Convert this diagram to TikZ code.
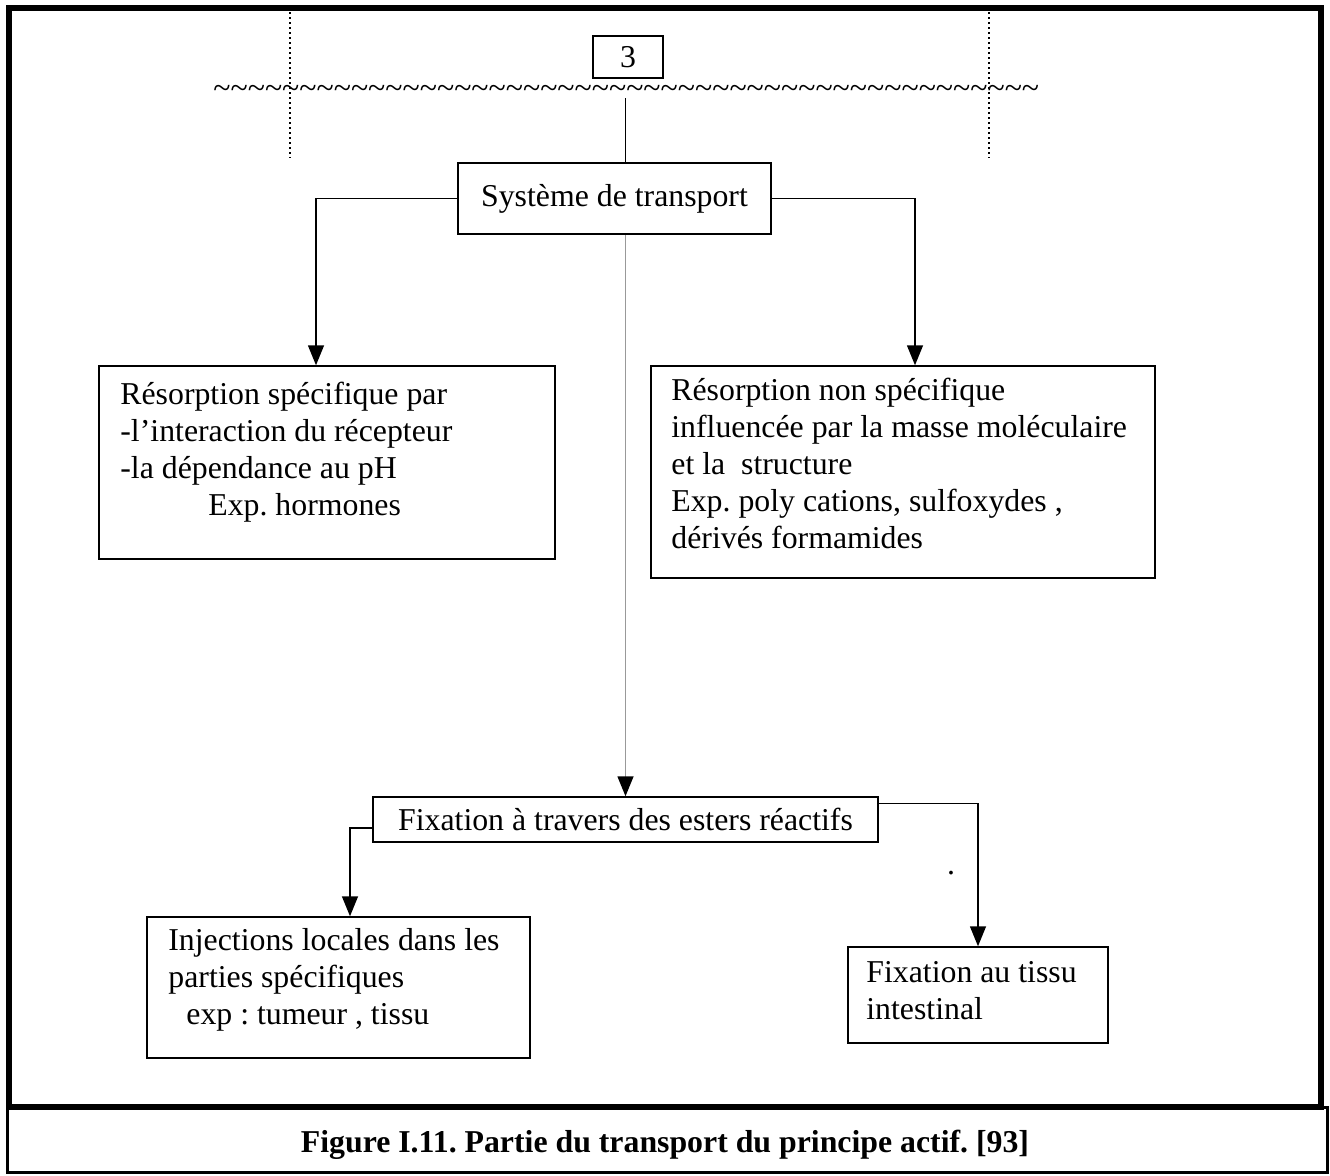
\documentclass[tikz,border=0pt]{standalone}
\usepackage{fontspec}
\setmainfont{Liberation Serif}
\frenchspacing
\usetikzlibrary{arrows.meta, positioning, calc, fit}

\begin{document}
\begin{tikzpicture}[
    x=0.5pt, y=-0.5pt,
    font=\fontsize{15.9pt}{18.5pt}\selectfont,
    >={Triangle[length=10pt, width=8pt]},
    frameLine/.style={line width=3pt},
    boxNode/.style={draw, line width=0.75pt, inner sep=0pt},
    boxText/.style={align=left, inner sep=0pt, anchor=base west},
    linkArrow/.style={->, line width=0.75pt},
    feedArrow/.style={-{Triangle[length=10pt, width=8pt, color=black]}, line width=0.75pt, draw=black!40},
    guideLine/.style={line width=0.6pt, dash pattern=on 1pt off 1.5pt}
]
    \useasboundingbox (0,0) rectangle (1330,1175);

    % Frame
    \draw[frameLine] (9,8) rectangle (1321,1107);
    \draw[line width=1.5pt] (7,1107) rectangle (1327,1172);

    % Header
    \coordinate (guideLT) at (290,12);
    \coordinate (guideLB) at (290,158);
    \coordinate (guideRT) at (989,12);
    \coordinate (guideRB) at (989,158);
    \draw[guideLine] (guideLT) -- (guideLB);
    \draw[guideLine] (guideRT) -- (guideRB);
    \node[boxNode, minimum width=35pt, minimum height=21pt] (stage) at (628,57) {3};
    \node[anchor=base west, inner sep=0pt] (waves) at (213,98) {\foreach \i in {1,...,48}{\textasciitilde}};

    % Nodes
    \node[boxNode, minimum width=156.5pt, minimum height=35.5pt] (sys) at (614.5,198.5) {Système de transport};

    \node[boxNode, fit={(99,366) (555,559)}] (specBox) {};
    \node[boxText] (specText) at (120,515) {Résorption spécifique par\\-l’interaction du récepteur\\-la dépendance au pH\\\hspace{44pt}Exp. hormones};

    \node[boxNode, fit={(651,366) (1155,578)}] (nonSpecBox) {};
    \node[boxText] (nonSpecText) at (671,548) {Résorption non spécifique\\influencée par la masse moléculaire\\et la\ \ structure\\Exp. poly cations, sulfoxydes ,\\dérivés formamides};

    \node[boxNode, minimum width=252.5pt, minimum height=22.5pt] (fixBox) at (625.5,819.5) {Fixation à travers des esters réactifs};

    \node[boxNode, fit={(147,917) (530,1058)}] (injBox) {};
    \node[boxText] (injText) at (168,1024) {Injections locales dans les\\parties spécifiques\\\hspace{9pt}exp : tumeur , tissu};

    \node[boxNode, fit={(848,947) (1108,1043)}] (tissuBox) {};
    \node[boxText] (tissuText) at (866,1019) {Fixation au tissu\\intestinal};

    \node[anchor=base, inner sep=0pt] (dot) at (951,874) {.};

    \node[anchor=base, font=\fontsize{15.9pt}{18.5pt}\selectfont\bfseries] (caption) at (665,1152) {Figure I.11. Partie du transport du principe actif. [93]};

    % Arrows
    \draw[line width=0.75pt] (fixBox.north |- waves.base) -- (fixBox.north |- sys.north);
    \draw[linkArrow] (sys.west) -| ([xshift=-5.5pt]specBox.north);
    \draw[linkArrow] (sys.east) -| ([xshift=6pt]nonSpecBox.north);
    \draw[feedArrow] (sys.south -| fixBox.north) -- (fixBox.north);
    \draw[linkArrow] ([yshift=-4.25pt]fixBox.west) -| ([xshift=5.75pt]injBox.north);
    \draw[linkArrow] ([yshift=8pt]fixBox.east) -| (tissuBox.north);

\end{tikzpicture}
\end{document}
